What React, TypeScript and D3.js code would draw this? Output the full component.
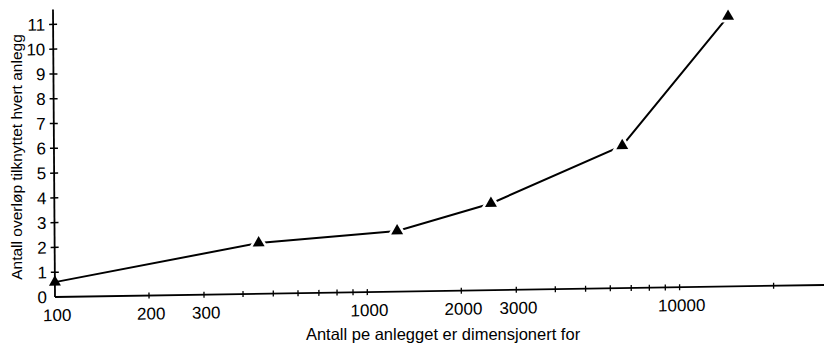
import React from 'react';
import { scaleLog, scaleLinear, line, symbol, symbolTriangle } from 'd3';

// antall pe (x) og antall overløp (y)
const peValues = [100, 450, 1250, 2500, 6600, 14500];
const overflowValues = [0.6, 2.05, 2.45, 3.5, 5.75, 10.9];
const xTickLabels = [100, 200, 300, 1000, 2000, 3000, 10000];
const xMinorTicks = [200, 300, 400, 500, 600, 700, 800, 900, 1000, 2000, 3000, 4000, 5000, 6000, 7000, 8000, 9000, 10000, 20000];
const yTicks = [0, 1, 2, 3, 4, 5, 6, 7, 8, 9, 10, 11];

const font = '"Liberation Sans", Arial, sans-serif';
const narrow = '"Liberation Sans Narrow", "Arial Narrow", "Liberation Sans", sans-serif';

export default function App() {
  const width = 824;
  const height = 347;
  const origin = { x: 55, y: 297 };

  const x = scaleLog().domain([100, 29000]).range([0, 769]);
  const y = scaleLinear().domain([0, 11.6]).range([0, -287.5]);

  const pts: [number, number][] = peValues.map((d, i) => [x(d), y(overflowValues[i])]);
  const path = line()(pts);
  const tri = symbol().type(symbolTriangle).size(62)();
  const triBg = symbol().type(symbolTriangle).size(190)();

  // the scanned page is slightly skewed
  const skew = `matrix(1,-0.0156,0.007,1,${origin.x},${origin.y})`;

  return (
    <svg width={width} height={height} style={{ position: 'absolute', left: 0, top: 0, background: '#fff' }}>
      <g transform={skew}>
        <line x1={0} y1={0} x2={x(29000)} y2={0} stroke="#000" strokeWidth={1.8} />
        <line x1={0} y1={0} x2={0} y2={y(11.6)} stroke="#000" strokeWidth={1.8} />
        {xMinorTicks.map(t => (
          <line key={'xt' + t} x1={x(t)} x2={x(t)} y1={-3} y2={3} stroke="#000" strokeWidth={1.3} />
        ))}
        {xTickLabels.map(t => (
          <text key={'xl' + t} x={x(t) + 2} y={24} textAnchor="middle" fontFamily={narrow} fontSize={17}>{t}</text>
        ))}
        {yTicks.filter(t => t > 0).map(t => (
          <line key={'yt' + t} x1={-4} x2={4} y1={y(t)} y2={y(t)} stroke="#000" strokeWidth={1.5} />
        ))}
        {yTicks.map(t => (
          <text key={'yl' + t} x={-8} y={y(t) + 6} textAnchor="end" fontFamily={narrow} fontSize={17}>{t}</text>
        ))}
        <path d={path || ''} fill="none" stroke="#000" strokeWidth={2} />
        {pts.map((p, i) => (
          <g key={'p' + i} transform={`translate(${p[0]},${p[1]})`}>
            {i > 0 && <path d={triBg || ''} fill="#fff" />}
            <path d={tri || ''} fill="#000" />
          </g>
        ))}
      </g>
      <text
        transform="translate(22,157) rotate(-90)"
        textAnchor="middle"
        fontFamily={font}
        fontSize={15.5}
      >
        Antall overløp tilknyttet hvert anlegg
      </text>
      <text x={443} y={340} textAnchor="middle" fontFamily={font} fontSize={16.5}>
        Antall pe anlegget er dimensjonert for
      </text>
    </svg>
  );
}
